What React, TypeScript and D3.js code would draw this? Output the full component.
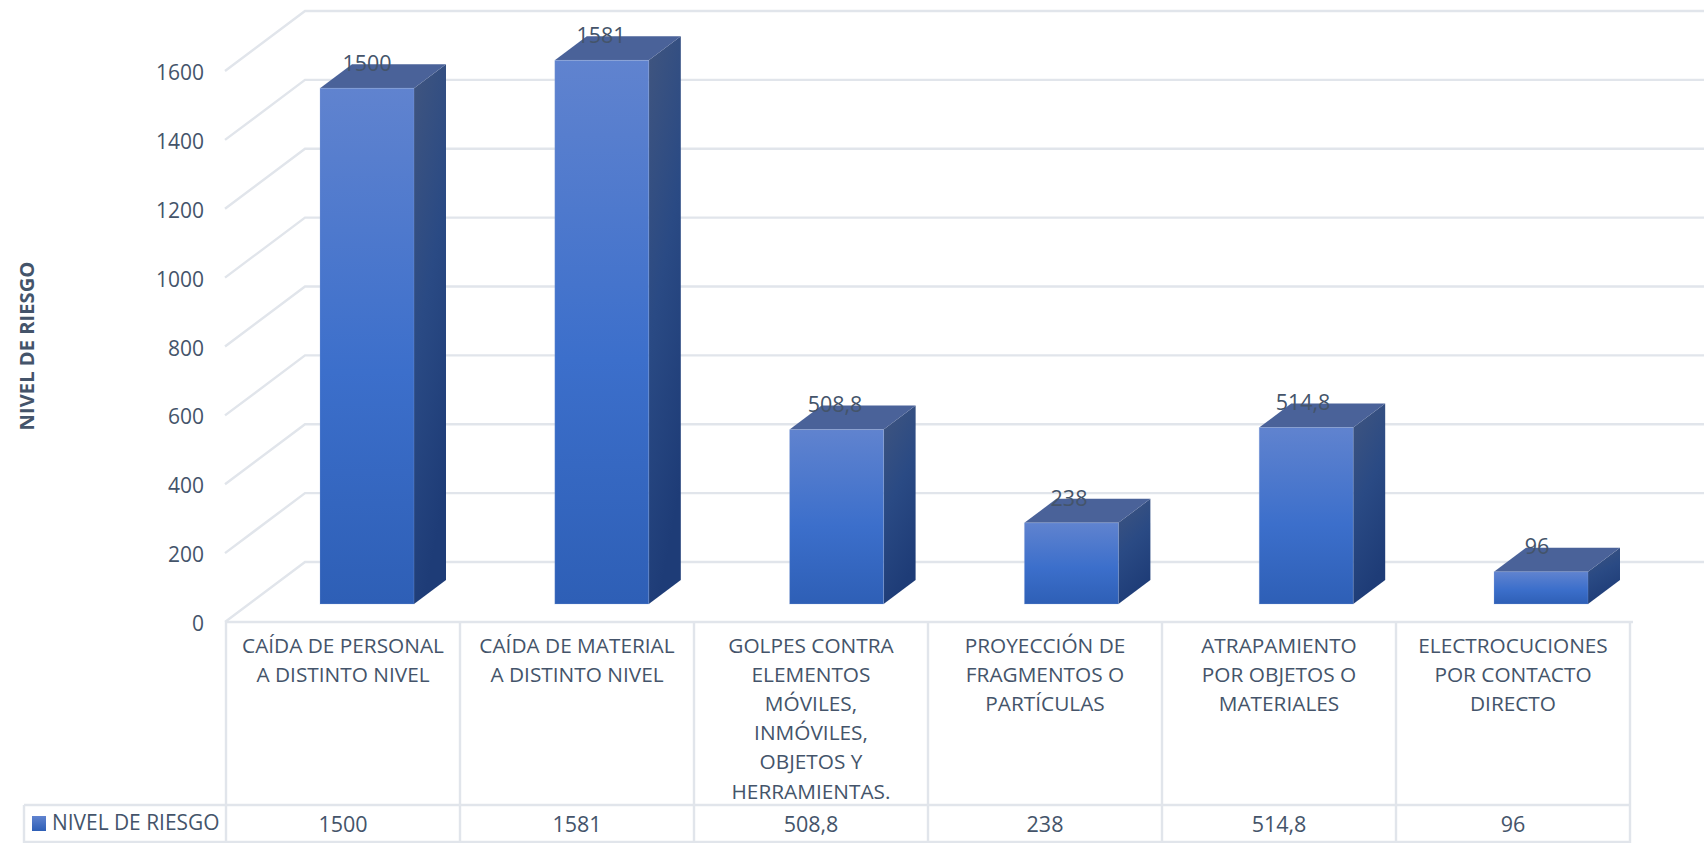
import React from "react";
import * as d3 from "d3";

// Risk level per hazard category
const categoryLines: string[][] = [
  ["CAÍDA DE PERSONAL", "A DISTINTO NIVEL"],
  ["CAÍDA DE MATERIAL", "A DISTINTO NIVEL"],
  ["GOLPES CONTRA", "ELEMENTOS", "MÓVILES,", "INMÓVILES,", "OBJETOS Y", "HERRAMIENTAS."],
  ["PROYECCIÓN DE", "FRAGMENTOS O", "PARTÍCULAS"],
  ["ATRAPAMIENTO", "POR OBJETOS O", "MATERIALES"],
  ["ELECTROCUCIONES", "POR CONTACTO", "DIRECTO"],
];
const riskValues: number[] = [1500, 1581, 508.8, 238, 514.8, 96];
const valueLabels: string[] = ["1500", "1581", "508,8", "238", "514,8", "96"];
const yTicks: number[] = [0, 200, 400, 600, 800, 1000, 1200, 1400, 1600];
const seriesName = "NIVEL DE RIESGO";

const WIDTH = 1704;
const HEIGHT = 843;
const FONT = "'Open Sans', sans-serif";
const TEXT = "#44546a";
const GRID = "#e1e5eb";

// Oblique projection of the 3D box: depth runs up and to the right
const DEPTH_X = 80;
const DEPTH_Y = -60;
const BAR_NEAR = 0.3;
const BAR_FAR = 0.7;

const y = d3.scaleLinear().domain([0, 1600]).range([622, 71]);
const indices = riskValues.map((_, i) => i);
// Table columns
const x = d3.scaleBand<number>().domain(indices).range([226, 1630]);
// Bars sit on the floor of the box, whose step is slightly wider than the table's
const barX = d3.scaleBand<number>().domain(indices).range([320, 1728.8]);
const BAR_WIDTH = 94;
const BAR_TOP_NUDGE = 0.8;
const LABEL_SHIFT = 24;

const pathOf = d3.line();

function Bar({ index, value }: { index: number; value: number }) {
  const nearDy = DEPTH_Y * BAR_NEAR;
  const dx = DEPTH_X * (BAR_FAR - BAR_NEAR);
  const dy = DEPTH_Y * (BAR_FAR - BAR_NEAR);
  const x0 = barX(index) as number;
  const x1 = x0 + BAR_WIDTH;
  const top = y(value) + nearDy + BAR_TOP_NUDGE;
  const bottom = y(0) + nearDy;
  return (
    <g>
      <path
        d={pathOf([[x1, top], [x1 + dx, top + dy], [x1 + dx, bottom + dy], [x1, bottom]]) + "Z"}
        fill="url(#sideFace)"
      />
      <path
        d={pathOf([[x0, top], [x0 + dx, top + dy], [x1 + dx, top + dy], [x1, top]]) + "Z"}
        fill="#4a6299"
      />
      <rect
        x={x0}
        y={top}
        width={BAR_WIDTH}
        height={bottom - top}
        fill="url(#frontFace)"
        stroke="#9db2e0"
        strokeOpacity={0.25}
      />
    </g>
  );
}

export default function App() {
  const wallX = x(0) as number;
  const frontX = wallX - 1;
  const endX = x.range()[1];
  return (
    <svg
      width={WIDTH}
      height={HEIGHT}
      viewBox={`0 0 ${WIDTH} ${HEIGHT}`}
      style={{ position: "absolute", left: 0, top: 0, display: "block", background: "#fff" }}
      fontFamily={FONT}
    >
      <defs>
        <linearGradient id="frontFace" x1="0" y1="0" x2="0" y2="1">
          <stop offset="0%" stopColor="#6083cf" />
          <stop offset="55%" stopColor="#3c6fcb" />
          <stop offset="100%" stopColor="#2e5fb6" />
        </linearGradient>
        <linearGradient id="sideFace" x1="0" y1="0" x2="0.3" y2="1">
          <stop offset="0%" stopColor="#40557f" />
          <stop offset="50%" stopColor="#2a4a84" />
          <stop offset="100%" stopColor="#1e3c77" />
        </linearGradient>
        <linearGradient id="swatch" x1="0" y1="0" x2="0" y2="1">
          <stop offset="0%" stopColor="#6083cf" />
          <stop offset="100%" stopColor="#2e5fb6" />
        </linearGradient>
      </defs>

      {/* Wall gridlines */}
      {yTicks.map((t) => (
        <path
          key={t}
          d={
            pathOf([
              [frontX, y(t)],
              [frontX + DEPTH_X, y(t) + DEPTH_Y],
              [WIDTH, y(t) + DEPTH_Y],
            ]) as string
          }
          fill="none"
          stroke={GRID}
          strokeWidth={2.4}
        />
      ))}

      {/* Value axis */}
      {yTicks.map((t) => (
        <text key={t} x={204} y={y(t) + 1} textAnchor="end" dominantBaseline="central" fontSize={21} fill={TEXT}>
          {t}
        </text>
      ))}
      <text
        transform="translate(26,346) rotate(-90)"
        textAnchor="middle"
        dominantBaseline="central"
        fontSize={20.2}
        fontWeight={700}
        fill={TEXT}
      >
        {seriesName}
      </text>

      {/* Bars */}
      {riskValues.map((v, i) => (
        <Bar key={i} index={i} value={v} />
      ))}

      {/* Value labels above the bars */}
      {riskValues.map((v, i) => (
        <text
          key={i}
          x={(x(i) as number) + x.bandwidth() / 2 + LABEL_SHIFT}
          y={y(v) + DEPTH_Y * BAR_NEAR - 25}
          textAnchor="middle"
          dominantBaseline="central"
          fontSize={21.5}
          fill={TEXT}
        >
          {valueLabels[i]}
        </text>
      ))}

      {/* Data table */}
      <g stroke={GRID} strokeWidth={2.4} fill="none">
        <line x1={frontX} x2={endX + 3} y1={y(0)} y2={y(0)} />
        <line x1={24} x2={endX} y1={805} y2={805} />
        <line x1={24} x2={endX} y1={842} y2={842} />
        <line x1={24} x2={24} y1={805} y2={843} />
        {indices.map((i) => (
          <line key={i} x1={x(i) as number} x2={x(i) as number} y1={y(0)} y2={843} />
        ))}
        <line x1={endX} x2={endX} y1={y(0)} y2={843} />
      </g>
      {categoryLines.map((lines, i) => (
        <text key={i} textAnchor="middle" fontSize={20.8} fill={TEXT}>
          {lines.map((l, j) => (
            <tspan
              key={j}
              x={(x(i) as number) + x.bandwidth() / 2}
              y={644.5 + j * 29.2}
              dominantBaseline="central"
            >
              {l}
            </tspan>
          ))}
        </text>
      ))}
      {valueLabels.map((l, i) => (
        <text
          key={i}
          x={(x(i) as number) + x.bandwidth() / 2}
          y={823}
          textAnchor="middle"
          dominantBaseline="central"
          fontSize={21.5}
          fill={TEXT}
        >
          {l}
        </text>
      ))}
      <rect x={32} y={816} width={14} height={15} fill="url(#swatch)" />
      <text x={52} y={822} dominantBaseline="central" fontSize={20.9} fill={TEXT}>
        {seriesName}
      </text>
    </svg>
  );
}
